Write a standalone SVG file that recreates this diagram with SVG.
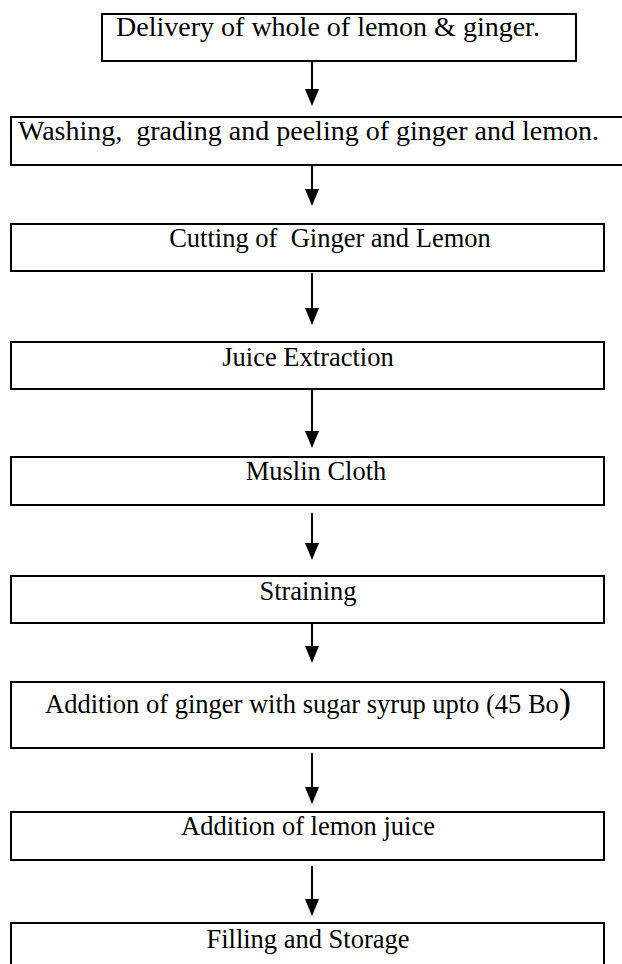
<svg xmlns="http://www.w3.org/2000/svg" width="622" height="964" viewBox="0 0 622 964">
<style>
.box{fill:#fff;stroke:#000;stroke-width:2}
.t{font-family:"Liberation Serif","Times New Roman",serif;font-size:26.5px;fill:#000}
.big{font-size:28px}
.c{text-anchor:middle}
.ln{stroke:#000;stroke-width:2;fill:none}
.hd{fill:#000}
</style>
<rect width="622" height="964" fill="#fff"/>
<g id="connectors">
<path class="ln" d="M312,62 V92"/><path class="hd" d="M305,89 L319,89 L312,106 Z"/>
<path class="ln" d="M312,158 V192"/><path class="hd" d="M305,189 L319,189 L312,206 Z"/>
<path class="ln" d="M312,273 V311"/><path class="hd" d="M305,308 L319,308 L312,325 Z"/>
<path class="ln" d="M312,390 V434"/><path class="hd" d="M305,431 L319,431 L312,448 Z"/>
<path class="ln" d="M312,513 V546"/><path class="hd" d="M305,543 L319,543 L312,560 Z"/>
<path class="ln" d="M312,616 V649"/><path class="hd" d="M305,646 L319,646 L312,663 Z"/>
<path class="ln" d="M312,753 V790"/><path class="hd" d="M305,787 L319,787 L312,804 Z"/>
<path class="ln" d="M312,866 V902"/><path class="hd" d="M305,899 L319,899 L312,916 Z"/>
</g>
<g id="n1"><rect class="box" x="102" y="14" width="474" height="47"/><text class="t big c" x="328" y="36">Delivery of whole of lemon &amp; ginger.</text></g>
<g id="n2"><rect class="box" x="11" y="117" width="620" height="48"/><text class="t big" x="18" y="140" xml:space="preserve">Washing,  grading and peeling of ginger and lemon.</text></g>
<g id="n3"><rect class="box" x="11" y="224" width="593" height="47"/><text class="t c" x="330" y="247" xml:space="preserve">Cutting of  Ginger and Lemon</text></g>
<g id="n4"><rect class="box" x="11" y="342" width="593" height="47"/><text class="t c" x="308" y="366">Juice Extraction</text></g>
<g id="n5"><rect class="box" x="11" y="457" width="593" height="48"/><text class="t c" x="316" y="480">Muslin Cloth</text></g>
<g id="n6"><rect class="box" x="11" y="576" width="593" height="47"/><text class="t c" x="308" y="600">Straining</text></g>
<g id="n7"><rect class="box" x="11" y="682" width="593" height="66"/><text class="t c" x="308" y="713">Addition of ginger with sugar syrup upto (45 Bo<tspan font-size="36">)</tspan></text></g>
<g id="n8"><rect class="box" x="11" y="812" width="593" height="48"/><text class="t c" x="308" y="835">Addition of lemon juice</text></g>
<g id="n9"><rect class="box" x="11" y="923" width="593" height="50"/><text class="t c" x="308" y="948">Filling and Storage</text></g>
</svg>
